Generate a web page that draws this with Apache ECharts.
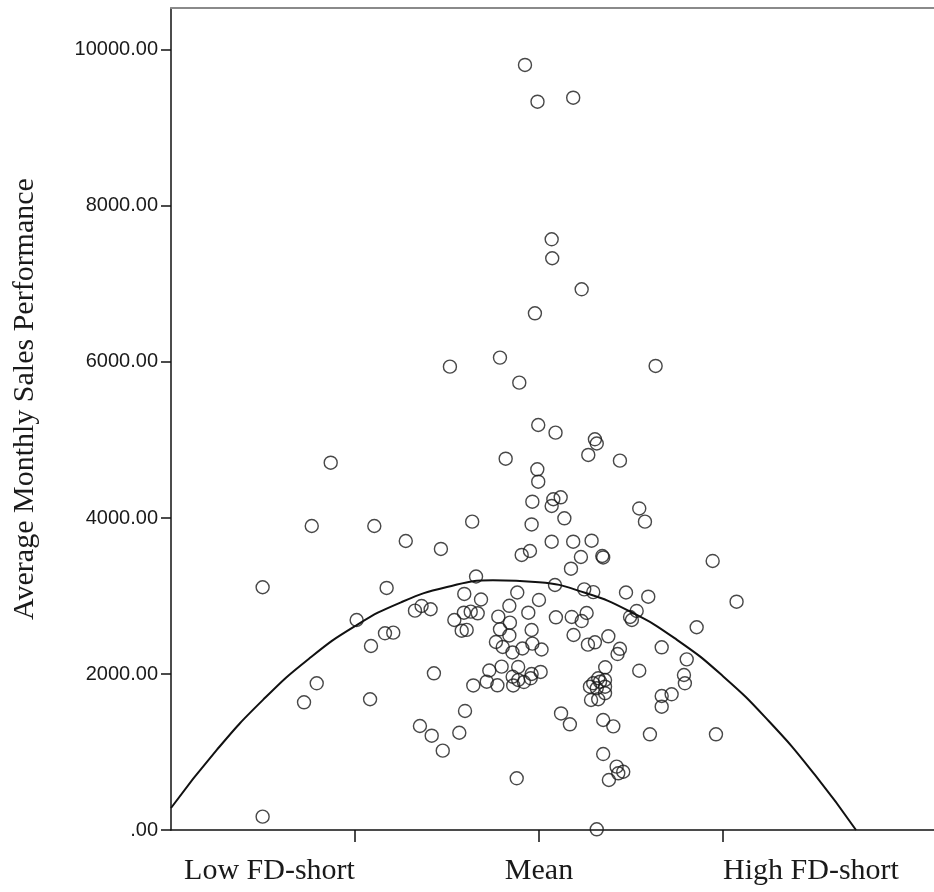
<!DOCTYPE html>
<html>
<head>
<meta charset="utf-8">
<script src="https://cdn.jsdelivr.net/npm/echarts@6/dist/echarts.min.js"></script>
<style>
  html, body { margin: 0; padding: 0; background: #fff; }
  #chart { width: 934px; height: 892px; }
</style>
</head>
<body>
<div id="chart"></div>
<script>
// FD-short in SD units (Low = -1, Mean = 0, High = +1)
var fdShort = [
  -0.076, -0.008, 0.186, 0.069, 0.072, 0.232, -0.022, -0.212, -0.484, -0.107,
  0.634, -0.004, 0.090, 0.304, 0.314, -1.132, -0.181, 0.268, 0.440, -0.009,
  -0.004, -0.036, 0.078, 0.118, 0.069, 0.138, 0.545, 0.576, -1.235, -0.895,
  -0.363, -0.040, -0.724, -0.533, 0.069, 0.186, 0.286, -0.049, -0.094, 0.228,
  0.344, 0.349, 0.174, 0.944, -0.342, 0.087, -1.502, -0.828, -0.406, -0.315,
  -0.118, -0.161, 0.000, -0.058, 0.246, 0.295, 0.473, 0.594, 1.074, -0.674,
  -0.638, -0.589, -0.991, -0.460, -0.408, -0.371, -0.333, -0.420, -0.393, -0.221,
  -0.158, -0.212, -0.161, -0.040, 0.092, 0.178, 0.259, 0.232, 0.495, 0.531,
  0.505, 0.857, -0.837, -0.792, -0.913, -0.234, -0.197, -0.144, -0.090, -0.036,
  0.014, 0.188, 0.266, 0.304, 0.377, 0.440, 0.427, 0.667, 0.803, -0.571,
  -1.208, -1.277, -0.918, -0.270, -0.203, -0.113, 0.009, -0.040, -0.357, -0.284,
  -0.226, -0.140, -0.113, -0.082, -0.045, -0.143, 0.360, 0.545, 0.788, 0.793,
  0.295, 0.332, 0.359, 0.277, 0.314, 0.359, 0.283, 0.322, 0.359, 0.322,
  0.667, 0.721, 0.667, -0.402, 0.120, 0.168, 0.349, 0.404, 0.603, 0.962,
  -0.647, -0.583, -0.433, -0.523, 0.349, 0.422, 0.458, 0.431, 0.380, -0.121,
  -1.502, 0.314
]
var salesPerf = [
  9808, 9337, 9388, 7573, 7330, 6932, 6624, 6056, 5940, 5735,
  5949, 5192, 5094, 5009, 4955, 4709, 4760, 4808, 4735, 4624,
  4465, 4209, 4240, 4265, 4154, 3996, 4122, 3953, 3897, 3897,
  3953, 3917, 3705, 3603, 3696, 3696, 3709, 3577, 3526, 3500,
  3513, 3494, 3350, 3449, 3250, 3141, 3112, 3103, 3026, 2955,
  3045, 2874, 2949, 2786, 3085, 3050, 3045, 2991, 2927, 2812,
  2872, 2830, 2692, 2692, 2786, 2799, 2778, 2555, 2565, 2735,
  2658, 2573, 2494, 2564, 2727, 2731, 2782, 2679, 2731, 2808,
  2692, 2599, 2522, 2530, 2359, 2410, 2346, 2276, 2327, 2389,
  2314, 2500, 2376, 2406, 2483, 2323, 2256, 2342, 2188, 2009,
  1881, 1637, 1676, 2045, 2094, 2090, 2026, 2000, 1853, 1901,
  1855, 1853, 1923, 1897, 1945, 1965, 2086, 2042, 1987, 1881,
  1881, 1901, 1923, 1837, 1817, 1837, 1667, 1676, 1753, 1945,
  1718, 1740, 1581, 1526, 1494, 1355, 1410, 1329, 1227, 1227,
  1333, 1209, 1247, 1017, 974, 812, 747, 727, 641, 663,
  171, 9
]
// quadratic fit line
var fitX = [-2, -1.75, -1.5, -1.25, -1, -0.75, -0.5, -0.25, 0, 0.25, 0.5, 0.75, 1, 1.25, 1.5, 1.723]
var fitY = [282, 1030, 1668, 2196, 2613, 2919, 3115, 3201, 3176, 3041, 2795, 2438, 1972, 1394, 707, 0]

var xTicks = [-1, 0, 1]
var xTickLabels = ['Low FD-short', 'Mean', 'High FD-short']
var yTicks = [0, 2000, 4000, 6000, 8000, 10000]

var serif = 'Liberation Serif'
var labelSize = 30

// outer labels sit beside their tick (Low ends at it, High starts at it)
var ctx = document.createElement('canvas').getContext('2d')
ctx.font = labelSize + 'px "' + serif + '"'
var lowW = Math.round(ctx.measureText(xTickLabels[0]).width)
var highW = Math.round(ctx.measureText(xTickLabels[2]).width)

var chart = echarts.init(document.getElementById('chart'))

var points = fdShort.map(function (x, i) { return [x, salesPerf[i]] })
var fitLine = fitX.map(function (x, i) { return [x, fitY[i]] })

var labelStyle = { fontFamily: serif, fontSize: labelSize, color: '#1a1a1a' }

chart.setOption({
  backgroundColor: '#fff',
  animation: false,
  grid: {
    left: 171,
    right: 0,
    top: 8,
    bottom: 62
  },
  xAxis: [{
    type: 'value',
    min: -2,
    max: 2.147,
    interval: 1,
    splitLine: { show: false },
    axisLine: { onZero: false, lineStyle: { color: '#111', width: 1.5 } },
    axisTick: {
      customValues: xTicks,
      length: 12,
      lineStyle: { color: '#111', width: 1.5 }
    },
    axisLabel: {
      customValues: xTicks,
      margin: 26,
      fontFamily: serif,
      fontSize: labelSize,
      color: '#1a1a1a',
      formatter: function (v) {
        var k = xTicks.indexOf(Math.round(v))
        if (k === 0) return '{lo|' + xTickLabels[0] + '}'
        if (k === 2) return '{hi|' + xTickLabels[2] + '}'
        return k >= 0 ? xTickLabels[k] : ''
      },
      rich: {
        lo: Object.assign({ padding: [0, lowW, 0, 0] }, labelStyle),
        hi: Object.assign({ padding: [0, 0, 0, highW] }, labelStyle)
      }
    }
  }, {
    type: 'value',
    position: 'top',
    min: -2,
    max: 2.147,
    axisLine: { show: true, onZero: false, lineStyle: { color: '#8a8a8a', width: 2 } },
    axisTick: { show: false },
    axisLabel: { show: false },
    splitLine: { show: false }
  }],
  yAxis: {
    type: 'value',
    min: 0,
    max: 10538,
    interval: 2000,
    name: 'Average Monthly Sales Performance',
    nameLocation: 'middle',
    nameRotate: 90,
    nameGap: 131,
    nameTextStyle: {
      fontFamily: serif,
      fontSize: 30,
      color: '#1a1a1a',
      padding: [0, 0, 0, 40]
    },
    splitLine: { show: false },
    axisLine: { show: true, onZero: false, lineStyle: { color: '#111', width: 1.5 } },
    axisTick: {
      customValues: yTicks,
      length: 10,
      lineStyle: { color: '#111', width: 1.5 }
    },
    axisLabel: {
      customValues: yTicks,
      margin: 13,
      fontFamily: 'Liberation Sans',
      fontSize: 20,
      color: '#1a1a1a',
      formatter: function (v) {
        return v === 0 ? '.00' : v.toFixed(2)
      }
    }
  },
  series: [{
    type: 'scatter',
    data: points,
    symbol: 'circle',
    symbolSize: 13,
    itemStyle: {
      color: 'rgba(255,255,255,0)',
      borderColor: '#1a1a1a',
      borderWidth: 1.4
    },
    z: 3
  }, {
    type: 'line',
    data: fitLine,
    smooth: true,
    symbol: 'none',
    lineStyle: { color: '#111', width: 2 },
    z: 4
  }]
})
</script>
</body>
</html>
